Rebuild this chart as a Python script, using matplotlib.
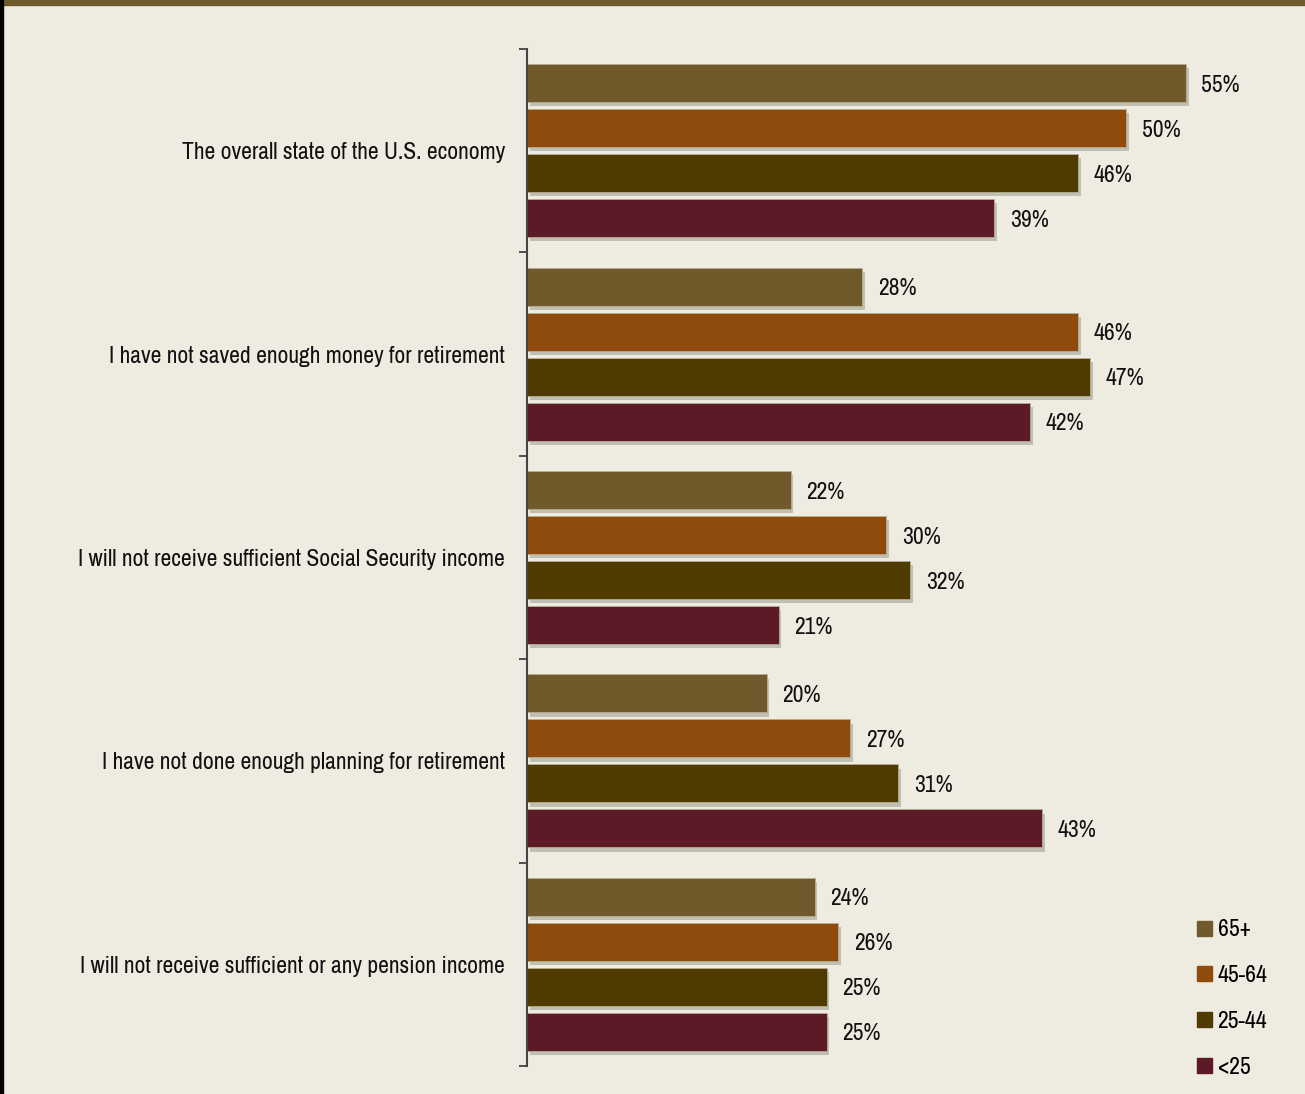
import matplotlib.pyplot as plt
import matplotlib.patches as mpatches
import matplotlib.patheffects as pe
import numpy as np

plt.rcParams['font.family'] = ['Archivo Narrow', 'Liberation Sans', 'DejaVu Sans']

categories = [
    'The overall state of the U.S. economy',
    'I have not saved enough money for retirement',
    'I will not receive sufficient Social Security income',
    'I have not done enough planning for retirement',
    'I will not receive sufficient or any pension income',
]
age_groups = ['65+', '45-64', '25-44', '<25']
values = {
    '65+':   [55, 28, 22, 20, 24],
    '45-64': [50, 46, 30, 27, 26],
    '25-44': [46, 47, 32, 31, 25],
    '<25':   [39, 42, 21, 43, 25],
}
colors = ['#705A2C', '#8F4A0E', '#4F3A00', '#5C1A26']

BG = '#EEEBE0'
W, H = 1305, 1094

fig = plt.figure(figsize=(W / 100, H / 100), dpi=100, facecolor=BG)
ax = fig.add_axes([527 / W, 1 - 1066 / H, (W - 527) / W, (1066 - 49) / H])
ax.set_facecolor(BG)

# frame decorations: brown band on top, dark line on the left
fig.patches.append(mpatches.Rectangle((0, 1 - 5 / H), 1, 5 / H, transform=fig.transFigure,
                                      color='#6F5A2B', zorder=0))
fig.patches.append(mpatches.Rectangle((0, 0), 3 / W, 1, transform=fig.transFigure,
                                      color='black', zorder=0))

y = np.arange(len(categories))
step = 45 / 203.4
bar_h = 38 / 203.4
offsets = (np.arange(4) - 1.5) * step

shadow = [pe.SimplePatchShadow(offset=(2, -3), shadow_rgbFace='#8a8a80', alpha=0.45), pe.Normal()]

for i, grp in enumerate(age_groups):
    vals = values[grp]
    bars = ax.barh(y + offsets[i], vals, height=bar_h, color=colors[i], label=grp,
                   edgecolor='#b8ad90', linewidth=0.6)
    for b, v in zip(bars, vals):
        b.set_path_effects(shadow)
        ax.text(v + 1.3, b.get_y() + b.get_height() / 2 + 0.01, f'{v}%', va='center',
                ha='left', fontsize=17, color='#111111')

ax.set_xlim(0, (W - 527) / 11.98)
ax.set_ylim(len(categories) - 0.5, -0.5)
ax.set_xticks([])
ax.set_yticks(np.arange(len(categories) + 1) - 0.5, minor=True)
ax.set_yticks(y)
ax.set_yticklabels(categories, fontsize=17, color='#111111')
ax.tick_params(axis='y', which='major', length=0, pad=16)
ax.tick_params(axis='y', which='minor', length=6, width=1.2, color='#333333')
for s in ['top', 'right', 'bottom']:
    ax.spines[s].set_visible(False)
ax.spines['left'].set_color('#444444')
ax.spines['left'].set_linewidth(1.5)

handles = [mpatches.Patch(color=c, label=g) for c, g in zip(colors, age_groups)]
fig.legend(handles=handles, loc='upper left', bbox_to_anchor=(1188 / W, 1 - 910 / H),
           frameon=False, fontsize=17, handlelength=0.6, handleheight=0.6,
           handletextpad=0.25, labelspacing=1.05, borderaxespad=0)

fig.savefig('out.png', dpi=100, facecolor=BG)
